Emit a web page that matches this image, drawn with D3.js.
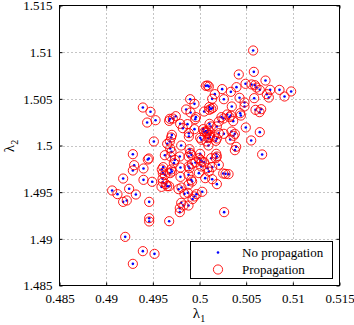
<!DOCTYPE html>
<html>
<head>
<meta charset="utf-8">
<script src="https://cdn.jsdelivr.net/npm/d3@7"></script>
<style>
  body { margin: 0; background: #fff; }
  svg text { font-family: "Liberation Serif", "Times New Roman", Times, serif; fill: #000; }
  .grid line { stroke: #8a8a8a; stroke-width: 1; stroke-dasharray: 1,3; }
</style>
</head>
<body>
<svg id="chart" width="354" height="325"></svg>
<script>
// lambda values (both series sit on the same points)
var lambda1 = [0.50575,0.50582,0.50421,0.50707,0.50493,0.50557,0.50593,0.50611,0.50068,0.50086,
  0.50100,0.50243,0.50336,0.50396,0.50646,0.50757,0.50857,0.50982,0.50721,0.50164,
  0.50743,0.50911,0.50136,0.50261,0.50429,0.50586,0.49900,0.50482,0.50482,0.49946,
  0.49857,0.49393,0.49475,0.50104,0.50125,0.50104,0.50143,0.50346,0.50661,0.50050,
  0.49904,0.50436,0.50600,0.50643,0.49529,0.49439,0.49961,0.49954,0.49682,0.49714,
  0.49746,0.49675,0.49793,0.49821,0.49871,0.49946,0.50039,0.50071,0.50050,0.50079,
  0.50096,0.50107,0.50121,0.50186,0.50207,0.50236,0.50257,0.50296,0.50321,0.50336,
  0.50361,0.50261,0.50343,0.50379,0.50329,0.50496,0.50646,0.50554,0.50443,0.49511,
  0.49696,0.49704,0.49682,0.49654,0.49804,0.49886,0.49886,0.50007,0.50021,0.50107,
  0.50111,0.50093,0.50154,0.50186,0.50175,0.50207,0.50364,0.50393,0.50379,0.50096,
  0.50075,0.49286,0.49446,0.49686,0.49700,0.49689,0.49893,0.49900,0.49914,0.49882,
  0.50007,0.49993,0.50011,0.50025,0.50050,0.50125,0.50179,0.50186,0.50175,0.49736,
  0.49789,0.50671,0.49629,0.49300,0.49286,0.49400,0.49457,0.49725,0.49796,0.49882,
  0.49893,0.49918,0.49957,0.50018,0.50086,0.50100,0.50136,0.50207,0.49686,0.49704,
  0.49611,0.49596,0.49607,0.49629,0.49696,0.49796,0.49882,0.49911,0.49921,0.49993,
  0.50061,0.50136,0.50254,0.50279,0.50311,0.50186,0.49182,0.49400,0.49493,0.49604,
  0.49607,0.49639,0.49654,0.49675,0.49593,0.49807,0.49775,0.49882,0.49875,0.49839,
  0.50029,0.49968,0.49946,0.49925,0.49064,0.49121,0.49246,0.49318,0.49221,0.49182,
  0.49461,0.49804,0.49882,0.49829,0.49789,0.49789,0.50264,0.49461,0.49461,0.49675,
  0.49204,0.49393,0.49518,0.49286];

var lambda2 = [1.51018,1.50789,1.50761,1.50696,1.50661,1.50654,1.50646,1.50621,1.50639,1.50643,
  1.50632,1.50604,1.50575,1.50625,1.50596,1.50596,1.50596,1.50579,1.50550,1.50550,
  1.50514,1.50525,1.50500,1.50496,1.50511,1.50507,1.50496,1.50461,1.50418,1.50446,
  1.50386,1.50407,1.50361,1.50411,1.50393,1.50382,1.50404,1.50418,1.50389,1.50364,
  1.50354,1.50346,1.50382,1.50357,1.50271,1.50246,1.50304,1.50282,1.50286,1.50289,
  1.50314,1.50264,1.50232,1.50186,1.50229,1.50175,1.50175,1.50154,1.50146,1.50136,
  1.50161,1.50232,1.50204,1.50204,1.50257,1.50304,1.50289,1.50332,1.50304,1.50321,
  1.50261,1.50125,1.50150,1.50125,1.50064,1.50193,1.50143,1.50054,1.50321,1.50043,
  1.50086,1.50114,1.50043,1.50018,1.50000,1.50096,1.50132,1.50082,1.50061,1.50114,
  1.50089,1.50079,1.50096,1.50075,1.50050,1.50132,1.50104,1.49986,1.49950,1.50000,
  1.50043,1.49907,1.49850,1.49968,1.49932,1.49882,1.49961,1.49921,1.49900,1.49882,
  1.49911,1.49864,1.49846,1.49829,1.49821,1.49864,1.49911,1.49882,1.49864,1.49846,
  1.49882,1.49904,1.49896,1.49789,1.49732,1.49754,1.49861,1.49811,1.49764,1.49775,
  1.49757,1.49804,1.49818,1.49775,1.49757,1.49721,1.49768,1.49793,1.49704,1.49721,
  1.49768,1.49743,1.49704,1.49686,1.49743,1.49664,1.49686,1.49632,1.49614,1.49704,
  1.49650,1.49639,1.49700,1.49696,1.49693,1.49586,1.49646,1.49632,1.49611,1.49643,
  1.49607,1.49586,1.49564,1.49564,1.49557,1.49550,1.49532,1.49579,1.49493,1.49482,
  1.49504,1.49479,1.49454,1.49425,1.49518,1.49479,1.49536,1.49475,1.49411,1.49396,
  1.49396,1.49386,1.49357,1.49357,1.49329,1.49286,1.49286,1.49221,1.49186,1.49189,
  1.49021,1.48868,1.48839,1.48732];

var xTicks = [0.485, 0.49, 0.495, 0.5, 0.505, 0.51, 0.515];
var yTicks = [1.485, 1.49, 1.495, 1.5, 1.505, 1.51, 1.515];
var seriesNames = ["No propagation", "Propagation"];

var svg = d3.select("#chart"),
    LEFT = 59.5, RIGHT = 339.5, TOP = 5.5, BOTTOM = 285.5,
    SERIF = '"Liberation Serif", "Times New Roman", Times, serif';

var xScale = d3.scaleLinear().domain([0.485, 0.515]).range([LEFT, RIGHT]),
    yScale = d3.scaleLinear().domain([1.485, 1.515]).range([BOTTOM, TOP]);

var points = lambda1.map(function(d, i) { return { x: d, y: lambda2[i] }; });

// dotted grid
var grid = svg.append("g").attr("class", "grid");
grid.selectAll(".gx").data(xTicks.slice(1, -1)).enter().append("line")
    .attr("x1", function(d) { return Math.round(xScale(d)) + 0.5; })
    .attr("x2", function(d) { return Math.round(xScale(d)) + 0.5; })
    .attr("y1", TOP).attr("y2", BOTTOM);
grid.selectAll(".gy").data(yTicks.slice(1, -1)).enter().append("line")
    .attr("y1", function(d) { return Math.round(yScale(d)) + 0.5; })
    .attr("y2", function(d) { return Math.round(yScale(d)) + 0.5; })
    .attr("x1", LEFT).attr("x2", RIGHT);

// axes, ticks pointing inward on all four sides
function styleAxis(g) {
    g.attr("font-family", SERIF).attr("font-size", 13);
    g.select(".domain").remove();
    g.selectAll(".tick line").attr("stroke", "#000");
    g.selectAll(".tick text").style("font-family", SERIF).style("font-size", "13px");
}

svg.append("g")
   .attr("transform", "translate(0," + BOTTOM + ")")
   .call(d3.axisBottom(xScale).tickValues(xTicks).tickFormat(d3.format("")).tickSizeInner(-3).tickPadding(8))
   .call(styleAxis);
svg.append("g")
   .attr("transform", "translate(0," + TOP + ")")
   .call(d3.axisTop(xScale).tickValues(xTicks).tickFormat("").tickSizeInner(-3))
   .call(styleAxis);
svg.append("g")
   .attr("transform", "translate(" + LEFT + ",0)")
   .call(d3.axisLeft(yScale).tickValues(yTicks).tickFormat(d3.format("")).tickSizeInner(-3).tickPadding(7))
   .call(styleAxis);
svg.append("g")
   .attr("transform", "translate(" + RIGHT + ",0)")
   .call(d3.axisRight(yScale).tickValues(yTicks).tickFormat("").tickSizeInner(-3))
   .call(styleAxis);

svg.append("rect")
   .attr("x", LEFT).attr("y", TOP)
   .attr("width", RIGHT - LEFT).attr("height", BOTTOM - TOP)
   .attr("fill", "none").attr("stroke", "#000");

// series
svg.selectAll(".dot").data(points).enter().append("circle")
   .attr("class", "dot")
   .attr("cx", function(d) { return xScale(d.x); })
   .attr("cy", function(d) { return yScale(d.y); })
   .attr("r", 1.3)
   .attr("fill", "#0000ff");

svg.selectAll(".ring").data(points).enter().append("circle")
   .attr("class", "ring")
   .attr("cx", function(d) { return xScale(d.x); })
   .attr("cy", function(d) { return yScale(d.y); })
   .attr("r", 4.6)
   .attr("fill", "none")
   .attr("stroke", "#ff0000")
   .attr("stroke-width", 0.9);

// axis labels
var xl = svg.append("text").attr("x", 199).attr("y", 318)
   .attr("text-anchor", "middle").style("font-family", SERIF).style("font-size", "15px");
xl.append("tspan").text("λ");
xl.append("tspan").style("font-size", "10px").attr("dy", 4).text("1");

var yl = svg.append("text").attr("transform", "translate(14,146) rotate(-90)")
   .attr("text-anchor", "middle").style("font-family", SERIF).style("font-size", "15px");
yl.append("tspan").text("λ");
yl.append("tspan").style("font-size", "10px").attr("dy", 4).text("2");

// legend
var legend = svg.append("g");
legend.append("rect")
      .attr("x", 190.5).attr("y", 241.5).attr("width", 142).attr("height", 37)
      .attr("fill", "#fff").attr("stroke", "#000");
legend.append("circle").attr("cx", 218).attr("cy", 252.5).attr("r", 1.3).attr("fill", "#0000ff");
legend.append("circle").attr("cx", 218).attr("cy", 269.5).attr("r", 4.6)
      .attr("fill", "none").attr("stroke", "#ff0000").attr("stroke-width", 0.9);
legend.selectAll(".lt").data(seriesNames).enter().append("text")
      .attr("x", 242)
      .attr("y", function(d, i) { return 257 + i * 17; })
      .style("font-family", SERIF).style("font-size", "13px")
      .text(function(d) { return d; });
</script>
</body>
</html>
